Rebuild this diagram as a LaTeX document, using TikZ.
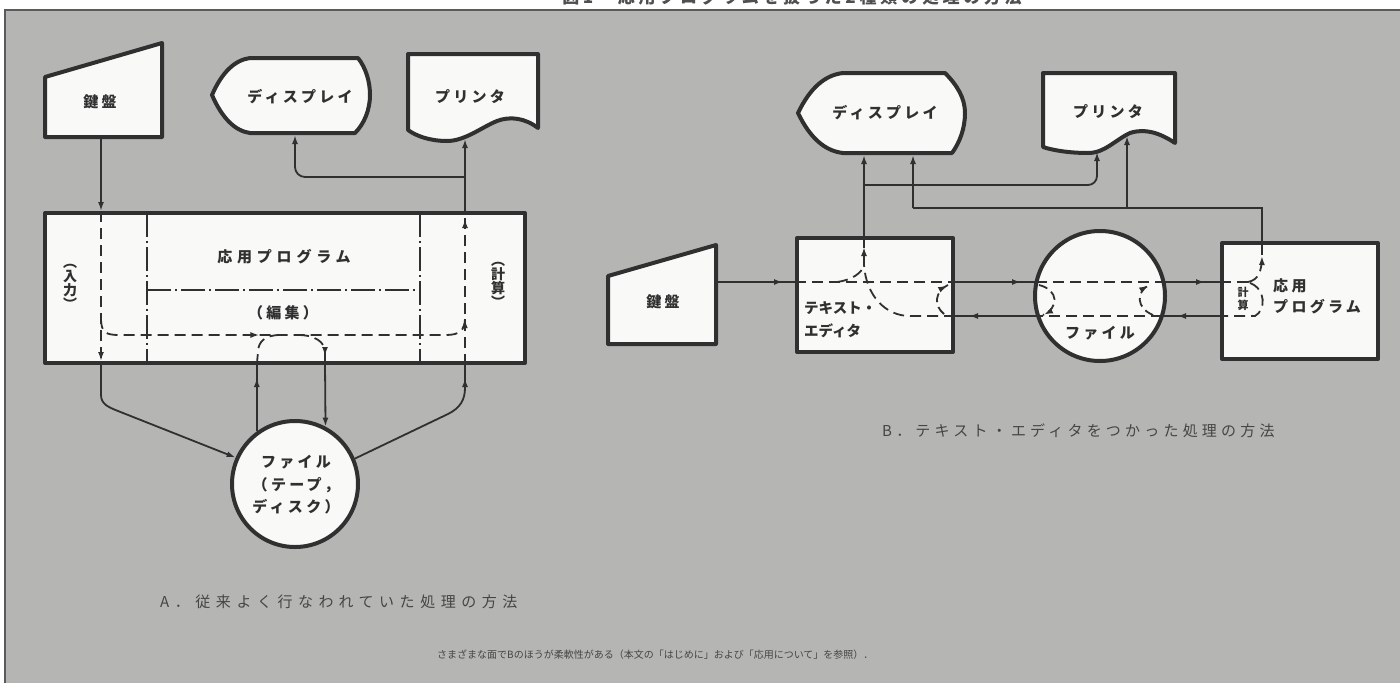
\documentclass[tikz,border=0pt]{standalone}
\usepackage{fontspec}
\setmainfont{Liberation Sans}
\newfontfamily\jp[LetterSpace=22]{Noto Sans CJK JP}
\newfontfamily\jpw[LetterSpace=32]{Noto Sans CJK JP}
\newfontfamily\jpca[LetterSpace=37]{Noto Sans CJK JP}
\newfontfamily\jpcb[LetterSpace=28]{Noto Sans CJK JP}
\newfontfamily\jpn{Noto Sans CJK JP}
\usetikzlibrary{arrows.meta,decorations.markings}
\definecolor{bg}{RGB}{181,181,179}
\definecolor{ink}{RGB}{48,48,48}
\definecolor{paper}{RGB}{249,249,247}
\begin{document}
\begin{tikzpicture}[x=1pt,y=-1pt,
  shp/.style={draw=ink, line width=4pt, fill=paper, line join=round},
  conn/.style={draw=ink, line width=1.8pt},
  dsh/.style={conn, dash pattern=on 11pt off 6pt},
  dd/.style={draw=ink, line width=1.3pt, dash pattern=on 24pt off 4pt on 2pt off 4pt},
  tip/.style={-{Latex[length=9pt,width=6pt]}},
  arrowat/.style={postaction={decorate,decoration={markings,mark=at position #1 with {\arrow{Latex[length=9pt,width=6pt]}}}}},
  lbl/.style={text=ink, font=\jp\bfseries\fontsize{15}{19}\selectfont, inner sep=0pt},
  vlbl/.style={text=ink, font=\jpn\bfseries\fontsize{14}{14}\selectfont, align=center, inner sep=0pt},
  captxt/.style={text=ink!90, inner sep=0pt, anchor=west},
  notetxt/.style={text=ink!90, font=\jpn\fontsize{10}{12}\selectfont, inner sep=0pt, anchor=west}
]
\useasboundingbox (0,0) rectangle (1400,683);
\clip (0,0) rectangle (1400,683);
\fill[white] (0,0) rectangle (1400,683);
\node[text=ink!85, font=\jp\bfseries\fontsize{17}{19}\selectfont, anchor=base, inner sep=0pt] (title) at (792,3) {図1　応用プログラムを扱った2種類の処理の方法};
\fill[bg] (5,10) rectangle (1400,683);
\draw[ink!80, line width=1.5pt] (5,683) -- (5,10) -- (1400,10);

% ================= Panel A =================
\draw[shp] (45,77) -- (162,43) -- (162,137) -- (45,137) -- cycle;
\node[lbl] (kbdA) at (100,102) {鍵盤};
\draw[shp] (212,95) .. controls (222,72) and (235,60) .. (250,58) -- (358,58) .. controls (366,68) and (370,82) .. (370,95) .. controls (370,110) and (364,124) .. (355,133) -- (250,133) .. controls (235,131) and (222,118) .. (212,95) -- cycle;
\node[lbl] (dispA) at (300,97) {ディスプレイ};
\draw[shp] (408,54) -- (538,54) -- (538,128) .. controls (525,118) and (510,116) .. (497,121) .. controls (482,127) and (465,141) .. (447,141) .. controls (430,141) and (416,136) .. (408,130) -- cycle;
\node[lbl] (prnA) at (470,97) {プリンタ};

\node[shp, rectangle, minimum width=480pt, minimum height=150pt, inner sep=0pt] (progA) at (285,288) {};
\draw[dd] (147,213) -- (147,363);
\draw[dd] (420,213) -- (420,363);
\draw[dd] (147,290) -- (420,290);
\node[lbl, font=\jpw\bfseries\fontsize{15}{19}\selectfont] (appA) at (284,257) {応用プログラム};
\node[lbl] (editA) at (283,313) {（編集）};
\node[vlbl] (inA) at (70,287) {︵\\入\\力\\︶};
\node[vlbl] (calcA) at (498,285) {︵\\計\\算\\︶};

\node[shp, circle, minimum size=126pt, inner sep=0pt] (fileA) at (295,484) {};
\node[lbl, align=center, font=\jp\bfseries\fontsize{15}{22.5}\selectfont] (fileAt) at (296,485) {ファイル\\（テープ，\\ディスク）};

\coordinate (kA) at (101,139);
\coordinate (pA) at (465,139);
\coordinate (dA) at (295,135);
\draw[conn, tip] (kA) -- (kA |- progA.north);
\draw[dsh, arrowat=-4pt] (kA |- progA.north) -- (kA |- progA.south);
\draw[dsh, arrowat=170pt, arrowat=-1pt] (101,318) .. controls (101,333) and (106,335) .. (120,335) -- (446,335) .. controls (460,335) and (465,330) .. (465,318);
\draw[dsh, arrowat=-8pt] (pA |- progA.south) -- (pA |- progA.north);
\draw[conn, tip] (pA |- progA.north) -- (pA);
\draw[conn, tip, rounded corners=10pt] (pA |- 0,177) -| (dA);
% file loop
\draw[conn, arrowat=-13pt] (fileA.126) -- (fileA.126 |- progA.south);
\draw[dsh] (fileA.126 |- progA.south) -- (258,352) .. controls (258,342) and (265,335) .. (280,335);
\draw[dsh, arrowat=-7pt] (298,335) .. controls (315,335) and (325,342) .. (325,352) -- (325,363);
\draw[conn, tip] (325,363) -- (fileA.62);
\draw[conn, tip] (kA |- progA.south) -- (101,395) .. controls (101,404) and (108,407) .. (118,411) -- (fileA.156);
\draw[conn, arrowat=-13pt] (fileA.23) -- (448,414) .. controls (460,408) and (465,400) .. (465,388) -- (pA |- progA.south);

\node[captxt, font=\jpca\fontsize{15}{17}\selectfont] (capA) at (160,602) {A．従来よく行なわれていた処理の方法};

% ================= Panel B =================
\draw[shp] (798,113) .. controls (810,88) and (825,75) .. (843,73) -- (945,73) .. controls (957,85) and (965,98) .. (965,113) .. controls (965,128) and (960,142) .. (952,153) -- (843,153) .. controls (825,151) and (810,138) .. (798,113) -- cycle;
\node[lbl] (dispB) at (885,113) {ディスプレイ};
\draw[shp] (1043,73) -- (1175,73) -- (1175,143) .. controls (1160,133) and (1145,128) .. (1130,133) .. controls (1115,140) and (1105,153) .. (1088,153) .. controls (1068,153) and (1052,150) .. (1043,147) -- cycle;
\node[lbl] (prnB) at (1108,112) {プリンタ};
\draw[shp] (608,276) -- (716,245) -- (716,344) -- (608,344) -- cycle;
\node[lbl] (kbdB) at (663,302) {鍵盤};

\node[shp, rectangle, minimum width=156pt, minimum height=114pt, inner sep=0pt] (ed) at (875,295) {};
\node[lbl, align=left, anchor=north west, font=\jpn\bfseries\fontsize{14.5}{23}\selectfont] (edt) at (804,301) {テキスト・\\エディタ};
\node[shp, circle, minimum size=130pt, inner sep=0pt] (fileB) at (1100,296) {};
\node[lbl] (fileBt) at (1100,333) {ファイル};
\node[shp, rectangle, minimum width=156pt, minimum height=116pt, inner sep=0pt] (app) at (1300,301) {};
\node[lbl, align=left, anchor=north west, font=\jp\bfseries\fontsize{15}{21}\selectfont] (appt) at (1273,278) {応用\\プログラム};
\node[vlbl, font=\jpn\bfseries\fontsize{11}{13}\selectfont] (calcB) at (1243,299) {計\\算};

\coordinate (kB) at (718,282);
\coordinate (dB1) at (864,155);
\coordinate (dB2) at (913,155);
\coordinate (pB1) at (1097,152);
\coordinate (pB2) at (1127,136);
% forward line
\draw[conn, arrowat=-12pt] (kB) -- (kB -| ed.west);
\draw[dsh] (kB -| ed.west) -- (kB -| ed.east);
\draw[conn, arrowat=-15pt] (kB -| ed.east) -- (1036,282);
\draw[dsh] (1036,282) -- (1164,282);
\draw[conn, arrowat=-15pt] (1164,282) -- (kB -| app.west);
\draw[dsh] (kB -| app.west) -- (1248,282);
% return line
\draw[dsh] (1250,283) .. controls (1266,289) and (1266,310) .. (1255,316) -- (app.west |- 0,316);
\draw[conn, arrowat=-15pt] (app.west |- 0,316) -- (1162,316);
\draw[dsh] (1162,316) -- (1039,316);
\draw[conn, arrowat=-14pt] (1039,316) -- (ed.east |- 0,316);
\draw[dsh] (ed.east |- 0,316) -- (910,316) .. controls (885,316) and (866,295) .. (864,265);
\draw[dsh] (837,282) .. controls (852,280) and (862,273) .. (864,265);
% U-turn brackets
\draw[dsh, dash pattern=on 9pt off 5pt, arrowat=-1pt] (944,314) .. controls (934,306) and (934,292) .. (948,285);
\draw[dsh, dash pattern=on 9pt off 5pt, arrowat=-1pt] (1039,285) .. controls (1059,290) and (1059,308) .. (1043,315);
\draw[dsh, dash pattern=on 9pt off 5pt, arrowat=-1pt] (1153,315) .. controls (1136,308) and (1136,292) .. (1149,285);
% editor to display / printer
\draw[dsh, arrowat=-9pt] (864,265) -- (864 ,238);
\draw[conn, tip] (864,238) -- (dB1);
\draw[conn, tip, rounded corners=9pt] (864,185) -| (pB1);
% app to display / printer
\draw[dsh, arrowat=-1pt] (1248,282) .. controls (1258,280) and (1262,272) .. (1262,255);
\draw[conn] (1262,255) -- (1262,208) -- (913,208);
\draw[conn, tip] (913,208) -- (dB2);
\draw[conn, tip] (1127,208) -- (pB2);

\node[captxt, font=\jpcb\fontsize{15}{17}\selectfont] (capB) at (882,431) {B．テキスト・エディタをつかった処理の方法};
\node[notetxt] (note) at (437,655) {さまざまな面でBのほうが柔軟性がある（本文の「はじめに」および「応用について」を参照）．};
\end{tikzpicture}
\end{document}
